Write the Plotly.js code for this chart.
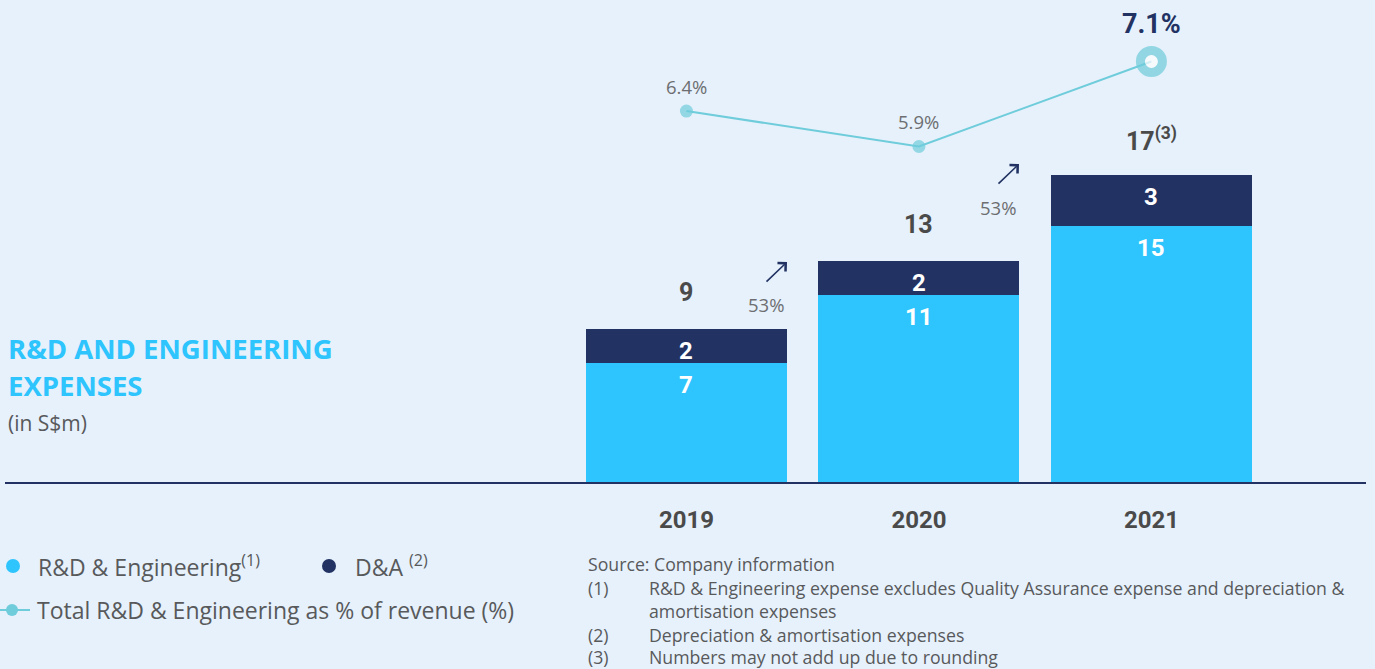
<!DOCTYPE html>
<html>
<head>
<meta charset="utf-8">
<script src="https://cdn.plot.ly/plotly-3.0.1.min.js"></script>
<style>
  html, body { margin: 0; padding: 0; background: #E6F1FB; }
  #chart { width: 1375px; height: 669px; }
</style>
</head>
<body>
<div id="chart"></div>
<script>
// ---------------- DATA ----------------
const years = ['2019', '2020', '2021'];
const rdEngineering = [7, 11, 15];        // S$m
const depAmort = [2, 2, 3];               // S$m
const totals = [9, 13, 17];               // S$m (as reported, rounded)
const totalNotes = ['', '', '(3)'];
const pctOfRevenue = [6.4, 5.9, 7.1];     // %
const growthLabels = ['53%', '53%'];

const titleLines = ['R&D AND ENGINEERING', 'EXPENSES'];
const unitLabel = '(in S$m)';
const legendRd = 'R&D & Engineering<sup>(1)</sup>';
const legendDa = 'D&A <sup>(2)</sup>';
const legendPct = 'Total R&D & Engineering as % of revenue (%)';
const sourceText = 'Source: Company information';
const noteMarks = ['(1)', '', '(2)', '(3)'];
const noteTexts = [
  'R&D & Engineering expense excludes Quality Assurance expense and depreciation &',
  'amortisation expenses',
  'Depreciation & amortisation expenses',
  'Numbers may not add up due to rounding'
];

// ---------------- STYLE ----------------
const C_LIGHT = '#2EC4FE';
const C_NAVY = '#213263';
const C_TEAL = '#6FCCDB';
const C_BG = '#E6F1FB';
const C_TEXT = '#58595B';
const C_DARKTEXT = '#4A4A4A';
const FONT_B = 'Roboto, "Open Sans", sans-serif';
const FONT = '"Open Sans", Roboto, sans-serif';

// plot area in pixels
const W = 1375, H = 669;
const L = 5, R = 9, T = 0, B = 187;
const PW = W - L - R, PH = H - T - B;
const px = x => (x - L) / PW;
const py = y => (H - B - y) / PH;

const annotations = [];
const shapes = [];

// labels tied to data
years.forEach((yr, i) => {
  annotations.push({
    x: i, xref: 'x', y: rdEngineering[i], yref: 'y', yshift: -22,
    text: String(rdEngineering[i]), showarrow: false,
    font: { family: FONT_B, size: 24, color: '#FFFFFF', weight: 700 }
  });
  annotations.push({
    x: i, xref: 'x', y: rdEngineering[i] + depAmort[i], yref: 'y', yshift: -22,
    text: String(depAmort[i]), showarrow: false,
    font: { family: FONT_B, size: 24, color: '#FFFFFF', weight: 700 }
  });
  const note = totalNotes[i] ? '<sup>' + totalNotes[i] + '</sup>' : '';
  annotations.push({
    x: i, xref: 'x', y: rdEngineering[i] + depAmort[i], yref: 'y', yshift: 36,
    text: String(totals[i]) + note, showarrow: false,
    font: { family: FONT_B, size: 25, color: C_DARKTEXT, weight: 700 }
  });
  const last = i === years.length - 1;
  annotations.push({
    x: i, xref: 'x', y: pctOfRevenue[i], yref: 'y2', yshift: last ? 37 : 25,
    text: pctOfRevenue[i].toFixed(1) + '%', showarrow: false,
    font: last ? { family: FONT_B, size: 27, color: C_NAVY, weight: 700 }
               : { family: FONT, size: 18.5, color: '#6D6E71' }
  });
});

// growth arrows
const arrowTips = [[787, 262], [1019, 164]];
const growthPos = [[766, 304], [998, 207]];
growthLabels.forEach((g, i) => {
  annotations.push({
    x: px(arrowTips[i][0]), y: py(arrowTips[i][1]), xref: 'paper', yref: 'paper',
    ax: -22, ay: 21, text: '', showarrow: true,
    arrowhead: 4, arrowsize: 1.4, arrowwidth: 1.6, arrowcolor: C_NAVY
  });
  annotations.push({
    x: px(growthPos[i][0]), y: py(growthPos[i][1]), xref: 'paper', yref: 'paper',
    xanchor: 'center', yanchor: 'middle', text: g, showarrow: false,
    font: { family: FONT, size: 18.5, color: '#6D6E71' }
  });
});

// title
annotations.push({
  x: px(6), y: py(348), xref: 'paper', yref: 'paper', xanchor: 'left', yanchor: 'middle',
  text: titleLines[0], showarrow: false,
  font: { family: FONT, size: 27.5, color: C_LIGHT, weight: 700 }
});
annotations.push({
  x: px(6), y: py(385), xref: 'paper', yref: 'paper', xanchor: 'left', yanchor: 'middle',
  text: titleLines[1], showarrow: false,
  font: { family: FONT, size: 27.5, color: C_LIGHT, weight: 700 }
});
annotations.push({
  x: px(6), y: py(423), xref: 'paper', yref: 'paper', xanchor: 'left', yanchor: 'middle',
  text: unitLabel, showarrow: false,
  font: { family: FONT, size: 21, color: C_TEXT }
});

// legend
function circle(cx, cy, r, color) {
  shapes.push({
    type: 'circle', xref: 'paper', yref: 'paper',
    x0: px(cx - r), x1: px(cx + r), y0: py(cy + r), y1: py(cy - r),
    fillcolor: color, line: { width: 0 }
  });
}
circle(13, 566, 7, C_LIGHT);
circle(329, 566, 7, C_NAVY);
shapes.push({
  type: 'line', xref: 'paper', yref: 'paper',
  x0: px(0), x1: px(30), y0: py(610), y1: py(610),
  line: { color: C_TEAL, width: 2 }
});
circle(12, 610, 6, C_TEAL);
[[36, 566, legendRd], [353, 566, legendDa], [35, 610, legendPct]].forEach(([x, y, t]) => {
  annotations.push({
    x: px(x), y: py(y), xref: 'paper', yref: 'paper', xanchor: 'left', yanchor: 'middle',
    text: t, showarrow: false, font: { family: FONT, size: 23, color: C_TEXT }
  });
});

// footnotes
const FN = 17.7;
annotations.push({
  x: px(586), y: py(564), xref: 'paper', yref: 'paper', xanchor: 'left', yanchor: 'middle',
  text: sourceText, showarrow: false, font: { family: FONT, size: FN, color: C_TEXT }
});
const noteYs = [588, 611, 635, 657];
noteTexts.forEach((t, i) => {
  if (noteMarks[i]) {
    annotations.push({
      x: px(586), y: py(noteYs[i]), xref: 'paper', yref: 'paper', xanchor: 'left', yanchor: 'middle',
      text: noteMarks[i], showarrow: false, font: { family: FONT, size: FN, color: C_TEXT }
    });
  }
  annotations.push({
    x: px(647), y: py(noteYs[i]), xref: 'paper', yref: 'paper', xanchor: 'left', yanchor: 'middle',
    text: t, showarrow: false, font: { family: FONT, size: FN, color: C_TEXT }
  });
});

// ---------------- TRACES ----------------
const nLast = pctOfRevenue.length - 1;
const traces = [
  {
    type: 'bar', name: 'R&D & Engineering', x: years, y: rdEngineering,
    marker: { color: C_LIGHT, line: { width: 0 } }, hoverinfo: 'skip'
  },
  {
    type: 'bar', name: 'D&A', x: years, y: depAmort,
    marker: { color: C_NAVY, line: { width: 0 } }, hoverinfo: 'skip'
  },
  {
    type: 'scatter', mode: 'lines+markers', name: 'Total R&D & Engineering as % of revenue (%)',
    x: years, y: pctOfRevenue, yaxis: 'y2', cliponaxis: false,
    line: { color: C_TEAL, width: 2 },
    marker: {
      size: pctOfRevenue.map((v, i) => i === nLast ? 22 : 13),
      color: pctOfRevenue.map((v, i) => i === nLast ? '#FFFFFF' : C_TEAL),
      line: { color: C_TEAL, width: pctOfRevenue.map((v, i) => i === nLast ? 9 : 0) }
    },
    hoverinfo: 'skip'
  }
];

const layout = {
  width: W, height: H,
  margin: { l: L, r: R, t: T, b: B },
  paper_bgcolor: C_BG, plot_bgcolor: C_BG,
  barmode: 'stack', bargap: 0.135,
  showlegend: false,
  font: { family: FONT, color: C_TEXT },
  xaxis: {
    type: 'category', range: [-2.931, 2.923], fixedrange: true,
    showline: true, linecolor: C_NAVY, linewidth: 2,
    showgrid: false, zeroline: false, ticks: '',
    tickfont: { family: FONT_B, size: 24, color: C_DARKTEXT, weight: 700 },
    ticklabelstandoff: 15
  },
  yaxis: {
    range: [0, 28.29], visible: false, showgrid: false, zeroline: false, fixedrange: true
  },
  yaxis2: {
    range: [1.163, 7.968], overlaying: 'y', side: 'right', visible: false,
    showgrid: false, zeroline: false, fixedrange: true
  },
  annotations: annotations,
  shapes: shapes
};

Plotly.newPlot('chart', traces, layout, { displayModeBar: false, staticPlot: true });
</script>
</body>
</html>
